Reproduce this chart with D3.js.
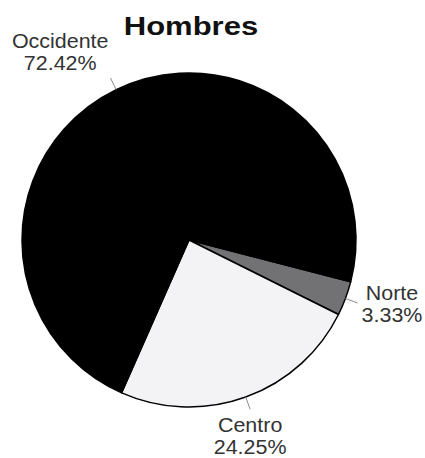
<!DOCTYPE html>
<html>
<head>
<meta charset="utf-8">
<script src="https://cdn.jsdelivr.net/npm/d3@7"></script>
<style>
    body { margin: 0; background: #fff; }
    text { font-family: "Liberation Sans", Arial, sans-serif; }
</style>
</head>
<body>
<div id="chart"></div>
<script>
var title = "Hombres";
var regions = ["Norte", "Centro", "Occidente"];
var shares = [3.33, 24.25, 72.42];
var sliceColors = ["#727274", "#f3f3f6", "#000000"];

var width = 425, height = 458;
var cx = 189, cy = 240, radius = 167;
var stretch = 1.1;
var lineGap = 22;

var svg = d3.select("#chart").append("svg")
    .attr("width", width)
    .attr("height", height);

var data = regions.map(function(r, i) {
    return { name: r, value: shares[i], color: sliceColors[i] };
});

var pie = d3.pie()
    .sort(null)
    .value(function(d) { return d.value; })
    .startAngle(104.5 * Math.PI / 180)
    .endAngle((104.5 + 360) * Math.PI / 180);

var arc = d3.arc().innerRadius(0).outerRadius(radius);

var g = svg.append("g")
    .attr("transform", "translate(" + cx + "," + cy + ")");

var arcs = pie(data);

g.selectAll(".slice")
    .data(arcs)
    .enter()
    .append("path")
    .attr("class", "slice")
    .attr("d", arc)
    .attr("fill", function(d) { return d.data.color; })
    .attr("stroke", "#000")
    .attr("stroke-width", 1.5)
    .attr("stroke-linejoin", "round");

// leader lines + labels (Excel style: block of two centred lines next to the leader)
arcs.forEach(function(d) {
    var a = (d.startAngle + d.endAngle) / 2;
    var s = Math.sin(a), c = -Math.cos(a);
    var p0 = [s * radius, c * radius];
    var p1 = [s * (radius + 13), c * (radius + 13)];

    g.append("line")
        .attr("x1", p0[0]).attr("y1", p0[1])
        .attr("x2", p1[0]).attr("y2", p1[1])
        .attr("stroke", "#8a8a8a")
        .attr("stroke-width", 1);

    var t = g.append("text")
        .attr("text-anchor", "middle")
        .attr("fill", "#333")
        .style("font-size", "19.5px");
    var spans = [d.data.name, d.data.value.toFixed(2) + "%"].map(function(str) {
        return t.append("tspan").text(str);
    });
    var w = 0;
    spans.forEach(function(ts) {
        var len = ts.node().getComputedTextLength() * stretch;
        ts.attr("textLength", len).attr("lengthAdjust", "spacingAndGlyphs");
        w = Math.max(w, len);
    });

    var mx = p1[0];
    if (s < -0.4) mx = p1[0] - 2 - w / 2;
    else if (s > 0.4) mx = p1[0] + 4 + w / 2;

    var firstBase;
    if (c < -0.5) firstBase = p1[1] - 8 - lineGap;      // above
    else if (c > 0.5) firstBase = p1[1] + 23;           // below
    else firstBase = p1[1] - 3;                         // centred

    spans.forEach(function(ts, i) {
        ts.attr("x", mx).attr("y", firstBase + i * lineGap);
    });
});

var tt = svg.append("text")
    .attr("x", 191)
    .attr("y", 35)
    .attr("text-anchor", "middle")
    .attr("fill", "#111")
    .style("font-size", "25px")
    .style("font-weight", "bold")
    .text(title);
var tlen = tt.node().getComputedTextLength();
tt.attr("textLength", tlen * 1.24).attr("lengthAdjust", "spacingAndGlyphs");
</script>
</body>
</html>
